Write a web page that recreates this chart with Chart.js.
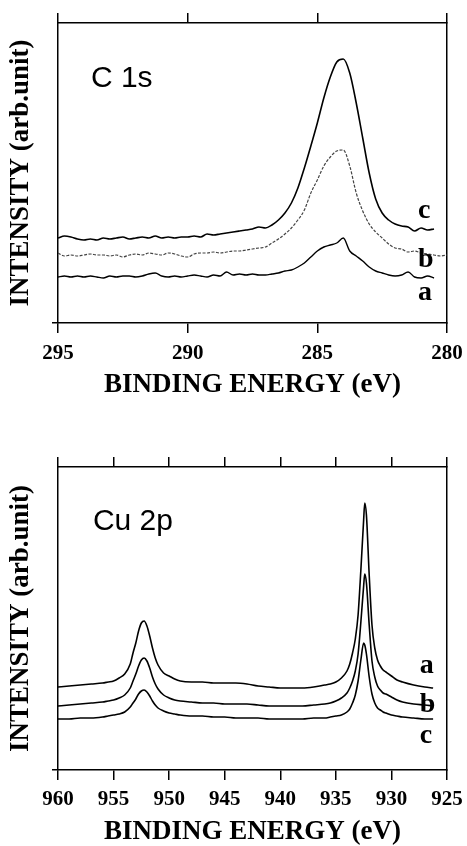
<!DOCTYPE html>
<html>
<head>
<meta charset="utf-8">
<script src="https://cdn.jsdelivr.net/npm/chart.js@4"></script>
<style>
  html, body { margin:0; padding:0; background:#fff; }
  body { width:467px; height:846px; position:relative; overflow:hidden; }
  canvas { position:absolute; left:0; }
  #c1 { top:0; }
  #c2 { top:420px; }
</style>
</head>
<body>
<canvas id="c1" width="467" height="420"></canvas>
<canvas id="c2" width="467" height="426"></canvas>
<script>
// ---------- C 1s panel ----------
const c1sEnergy = [295,294.75,294.5,294.25,294,293.75,293.5,293.25,293,292.75,292.5,292.25,292,291.75,291.5,291.25,291,290.75,290.5,290.25,290,289.75,289.5,289.25,289,288.75,288.5,288.25,288,287.75,287.5,287.25,287,286.75,286.5,286.25,286,285.75,285.5,285.25,285,284.75,284.5,284.25,284,283.75,283.5,283.25,283,282.75,282.5,282.25,282,281.75,281.5,281.25,281,280.75,280.5,280.25,280];
const c1sC = [85,87,86,84, 83,84,83,85, 84,85,86,84, 85,86,85,87, 85,86,85,86, 86,87,86,89, 88,89,90,91, 92,93,94,96, 95,98,103,110, 120,135,155,177, 200,225,246,261, 264,250,220,185, 150,124,110,103, 99,97,96,92, 95,93,94,null, null];
const c1sB = [70,67,68,67, 68,69,68,68, 67,68,66,68, 69,68,70,69, 68,70,69,67, 66,69,70,70, 71,70,71,72, 72,73,74,75, 76,80,84,89, 95,103,113,130, 143,157,166,172, 173,157,130,112, 99,91,85,79, 75,74,71,72, 70,69,68,67, 68];
const c1sA = [46,47,46,47, 46,47,46,45, 47,46,47,47, 46,47,49,50, 47,46,47,46, 47,48,47,46, 48,47,51,48, 49,48,49,48, 48,49,50,52, 53,56,60,66, 72,76,78,80, 85,72,67,62, 56,52,50,48, 47,48,51,46, 45,47,45,null, null];
const c1sTicks = [295,290,285,280];

// ---------- Cu 2p panel ----------
const cuEnergy = [960,959,958,957,956, 955.5,955,954.5,954,953.5, 953.25,953,952.75,952.5,952.25,952,951.75,951.5,951.25,951, 950.5,950,949.5,949, 948,947,946,945,944,943,942,941,940,939,938,937,936, 935.5,935,934.5,934, 933.75,933.5,933.25,933,932.75,932.5,932.4,932.25,932,931.75,931.5,931.25,931,930.75,930.5, 930,929.5,929, 928,927,926.25];
const cuA = [83,84,85,86,87, 88,89,92,96,106, 117,127,139,147,149,144,134,122,112,105, 97,94,91,89, 88,88,87,87,87,86,84,83,82,82,82,83,85, 86,88,92,99, 106,117,131,155,200,250,267,255,195,145,122,110,104,100,98, 94,90,88, 85,83,82];
const cuB = [64,65,66,67,68, 69,70,72,75,82, 89,96,104,110,112,109,102,93,86,81, 75,72,70,69, 68,67,67,66,66,66,65,64,64,64,64,65,66, 67,69,72,77, 82,89,99,116,148,184,196,187,145,109,93,84,80,77,76, 73,70,68, 66,65,64];
const cuC = [51,51,52,52,53, 54,55,56,58,63, 67,71,76,79,80,78,74,69,65,62, 59,57,56,55, 54,54,53,53,52,52,52,51,51,51,51,52,52, 53,54,55,58, 61,67,75,89,110,127,125,116,93,76,67,62,60,58,57, 55,54,53, 52,51,51];
const cuTicks = [960,955,950,945,940,935,930,925];

const SERIF = "'Liberation Serif', 'Times New Roman', serif";
const SANS = "'Liberation Sans', Arial, sans-serif";

const textPlugin = {
  id: 'panelText',
  afterDatasetsDraw(chart) {
    const items = chart.options.plugins.panelText.items || [];
    const {ctx, scales} = chart;
    ctx.save();
    ctx.fillStyle = '#000';
    ctx.textBaseline = 'alphabetic';
    ctx.textAlign = 'left';
    items.forEach(it => {
      ctx.font = it.font;
      ctx.fillText(it.text, scales.x.getPixelForValue(it.x), scales.y.getPixelForValue(it.y));
    });
    ctx.restore();
  }
};

function pts(xs, ys) { return xs.map((x, i) => ({x: x, y: ys[i]})); }

function makeChart(id, cfg) {
  const axisGrid = {drawOnChartArea:false, drawTicks:true, tickLength:10, color:'#000', lineWidth:1.5};
  const border = {display:true, color:'#000', width:1.5};
  const tickSet = s => { s.ticks = cfg.ticks.map(v => ({value:v})); };
  return new Chart(document.getElementById(id), {
    type: 'line',
    data: { datasets: cfg.datasets },
    options: {
      responsive:false, animation:false, devicePixelRatio:1,
      layout:{padding:0},
      elements:{point:{radius:0}, line:{tension:0}},
      plugins:{legend:{display:false}, tooltip:{enabled:false}, panelText:{items:cfg.labels}},
      scales:{
        x:{type:'linear', position:'bottom', reverse:true, min:cfg.xmin, max:cfg.xmax,
           afterBuildTicks:tickSet,
           ticks:{font:{family:SERIF, size:21, weight:'bold', lineHeight:cfg.tickLH}, color:'#000', padding:4, maxRotation:0, autoSkip:false},
           grid:axisGrid, border:border,
           title:{display:true, text:'BINDING ENERGY (eV)', color:'#000', font:{family:SERIF, size:27, weight:'bold', lineHeight:1}, padding:{top:0, bottom:cfg.titlePad}},
           afterFit: s => { s.height = cfg.bottomH; }},
        x2:{type:'linear', axis:'x', position:'top', reverse:true, min:cfg.xmin, max:cfg.xmax,
           afterBuildTicks:tickSet, ticks:{display:false},
           grid:axisGrid, border:border,
           afterFit: s => { s.height = cfg.topH; }},
        y:{type:'linear', position:'left', min:0, max:cfg.ymax,
           afterBuildTicks: s => { s.ticks = [{value:0}]; },
           ticks:{display:false},
           grid:{drawOnChartArea:false, drawTicks:true, tickLength:6, color:'#000', lineWidth:1.5},
           border:border,
           title:{display:true, text:'INTENSITY (arb.unit)', color:'#000', font:{family:SERIF, size:27, weight:'bold', lineHeight:1}, padding:{top:8, bottom:0}},
           afterFit: s => { s.width = 58; }},
        y2:{type:'linear', axis:'y', position:'right', min:0, max:cfg.ymax,
           ticks:{display:false},
           grid:{drawOnChartArea:false, drawTicks:false, color:'#000'},
           border:border,
           afterFit: s => { s.width = 20; }}
      }
    },
    plugins:[textPlugin]
  });
}

const solid = (data, w) => ({data, borderColor:'#000', borderWidth:w, fill:false, pointRadius:0, cubicInterpolationMode:'monotone', spanGaps:false});

makeChart('c1', {
  xmin:280, xmax:295, ymax:300, ticks:c1sTicks, topH:23, bottomH:97, titlePad:21.5, tickLH:1.58,
  datasets:[
    solid(pts(c1sEnergy, c1sC), 1.6),
    Object.assign(solid(pts(c1sEnergy, c1sB), 1.2), {borderColor:'#444', borderDash:[3,1.5]}),
    solid(pts(c1sEnergy, c1sA), 1.4)
  ],
  labels:[
    {text:'C 1s', x:293.73, y:235.7, font:"30px " + SANS},
    {text:'c', x:281.12, y:105, font:"bold 28px " + SERIF},
    {text:'b', x:281.12, y:56, font:"bold 28px " + SERIF},
    {text:'a', x:281.12, y:23, font:"bold 28px " + SERIF}
  ]
});

makeChart('c2', {
  xmin:925, xmax:960, ymax:303, ticks:cuTicks, topH:47, bottomH:76, titlePad:0, tickLH:1.5,
  datasets:[
    solid(pts(cuEnergy, cuA), 1.6),
    solid(pts(cuEnergy, cuB), 1.6),
    solid(pts(cuEnergy, cuC), 1.6)
  ],
  labels:[
    {text:'Cu 2p', x:956.86, y:240, font:"30px " + SANS},
    {text:'a', x:927.45, y:97, font:"bold 28px " + SERIF},
    {text:'b', x:927.45, y:58, font:"bold 28px " + SERIF},
    {text:'c', x:927.45, y:27, font:"bold 28px " + SERIF}
  ]
});
</script>
</body>
</html>
